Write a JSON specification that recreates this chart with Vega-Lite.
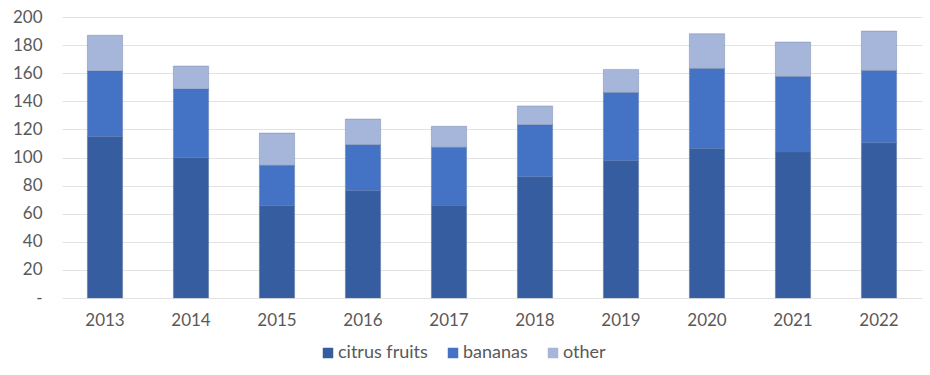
{
  "$schema": "https://vega.github.io/schema/vega-lite/v6.json",
  "autosize": {"type": "none"},
  "width": 860,
  "height": 281,
  "padding": {"left": 62, "top": 17, "right": 8, "bottom": 77},
  "background": "white",
  "data": {"values": [
    {"year": "2013", "type": "citrus fruits", "value": 115},
    {"year": "2013", "type": "bananas", "value": 46.5},
    {"year": "2013", "type": "other", "value": 25.5},
    {"year": "2014", "type": "citrus fruits", "value": 100},
    {"year": "2014", "type": "bananas", "value": 48.7},
    {"year": "2014", "type": "other", "value": 16.4},
    {"year": "2015", "type": "citrus fruits", "value": 65.7},
    {"year": "2015", "type": "bananas", "value": 28.7},
    {"year": "2015", "type": "other", "value": 23},
    {"year": "2016", "type": "citrus fruits", "value": 76.4},
    {"year": "2016", "type": "bananas", "value": 32.7},
    {"year": "2016", "type": "other", "value": 18.3},
    {"year": "2017", "type": "citrus fruits", "value": 66},
    {"year": "2017", "type": "bananas", "value": 41.3},
    {"year": "2017", "type": "other", "value": 14.9},
    {"year": "2018", "type": "citrus fruits", "value": 86.3},
    {"year": "2018", "type": "bananas", "value": 37},
    {"year": "2018", "type": "other", "value": 13.4},
    {"year": "2019", "type": "citrus fruits", "value": 97.7},
    {"year": "2019", "type": "bananas", "value": 48.6},
    {"year": "2019", "type": "other", "value": 16.4},
    {"year": "2020", "type": "citrus fruits", "value": 106.3},
    {"year": "2020", "type": "bananas", "value": 57.1},
    {"year": "2020", "type": "other", "value": 24.7},
    {"year": "2021", "type": "citrus fruits", "value": 104},
    {"year": "2021", "type": "bananas", "value": 53.6},
    {"year": "2021", "type": "other", "value": 24.6},
    {"year": "2022", "type": "citrus fruits", "value": 110.5},
    {"year": "2022", "type": "bananas", "value": 51.5},
    {"year": "2022", "type": "other", "value": 28}
  ]},
  "transform": [
    {"calculate": "indexof(['citrus fruits', 'bananas', 'other'], datum.type)", "as": "stackOrder"}
  ],
  "mark": {"type": "bar", "stroke": "#5a6f99", "strokeWidth": 0.6, "strokeOpacity": 0.6},
  "encoding": {
    "x": {
      "field": "year", "type": "ordinal",
      "scale": {"paddingInner": 0.59, "paddingOuter": 0.295},
      "axis": {"title": null, "labelAngle": 0, "labelFont": "Lato", "labelFontSize": 17, "labelColor": "#595959", "labelPadding": 14, "domain": false, "ticks": false}
    },
    "y": {
      "field": "value", "type": "quantitative", "aggregate": "sum",
      "scale": {"domain": [0, 200], "nice": false},
      "axis": {"title": null, "values": [0, 20, 40, 60, 80, 100, 120, 140, 160, 180, 200], "labelExpr": "datum.value == 0 ? '-' : datum.label", "labelFont": "Lato", "labelFontSize": 17, "labelColor": "#595959", "labelPadding": 20, "domain": false, "ticks": false, "gridColor": "#e3e3e3", "gridWidth": 1}
    },
    "color": {
      "field": "type", "type": "nominal",
      "sort": ["citrus fruits", "bananas", "other"],
      "scale": {"domain": ["citrus fruits", "bananas", "other"], "range": ["#365da0", "#4472c4", "#a6b5da"]},
      "legend": {"title": null, "orient": "none", "legendX": 257, "legendY": 327, "direction": "horizontal", "symbolType": "square", "symbolSize": 110, "symbolStrokeWidth": 0, "labelFont": "Lato", "labelFontSize": 18, "labelColor": "#595959", "columnPadding": 16, "labelOffset": 1}
    },
    "order": {"field": "stackOrder", "type": "quantitative", "sort": "ascending"}
  },
  "config": {"view": {"stroke": null}}
}
